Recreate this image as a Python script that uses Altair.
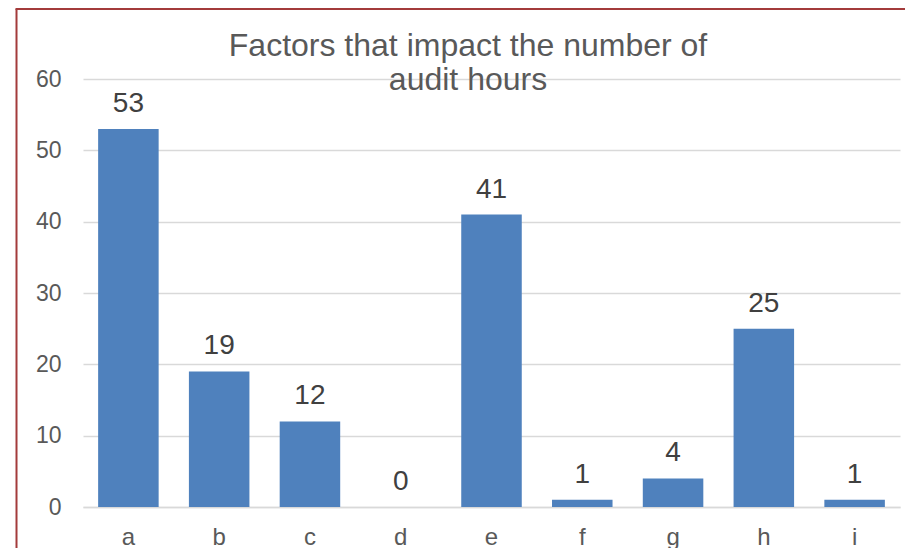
import altair as alt
import pandas as pd

categories = ["a", "b", "c", "d", "e", "f", "g", "h", "i"]
values = [53, 19, 12, 0, 41, 1, 4, 25, 1]
title_lines = ["Factors that impact the number of", "audit hours"]
y_ticks = [0, 10, 20, 30, 40, 50, 60]

df = pd.DataFrame({"cat": categories, "val": values})
FONT = "Liberation Sans"

x = alt.X(
    "cat:N", sort=categories, title=None,
    scale=alt.Scale(paddingInner=1 / 3, paddingOuter=1 / 6),
    axis=alt.Axis(labelAngle=0, labelFontSize=24, labelColor="#595959",
                  labelPadding=37, labelBaseline="alphabetic", ticks=False,
                  domainColor="#d9d9d9", domainWidth=1.5, grid=False,
                  labelFont=FONT),
)
y = alt.Y(
    "val:Q", title=None,
    scale=alt.Scale(domain=[0, 60], nice=False),
    axis=alt.Axis(values=y_ticks, labelFontSize=23, labelColor="#595959",
                  labelPadding=22, ticks=False, domain=False,
                  gridColor="#d9d9d9", gridWidth=1.5, labelFont=FONT),
)

base = alt.Chart(df)
bars = base.mark_bar(color="#4F81BD").encode(x=x, y=y)
labels = base.mark_text(dy=-17, baseline="alphabetic", fontSize=28,
                        color="#404040", font=FONT).encode(
    x=alt.X("cat:N", sort=categories), y="val:Q", text="val:Q")

title_df = pd.DataFrame({"t": ["\n".join(title_lines)]})
title = alt.Chart(title_df).mark_text(
    lineBreak="\n", fontSize=32, lineHeight=34, color="#595959", font=FONT,
    align="center", baseline="alphabetic").encode(
    text="t:N", x=alt.value(385), y=alt.value(-23))

one = pd.DataFrame({"k": [0]})
border_left = alt.Chart(one).mark_rule(color="#a33b3b", strokeWidth=2).encode(
    x=alt.value(-66.5), y=alt.value(-70), y2=alt.value(480))
border_top = alt.Chart(one).mark_rule(color="#a33b3b", strokeWidth=2).encode(
    y=alt.value(-70), x=alt.value(-67.5), x2=alt.value(830))

chart = alt.layer(bars, labels, title, border_left, border_top).properties(
    width=817, height=428,
    padding={"left": 75, "top": 71, "right": 5, "bottom": 41},
    autosize=alt.AutoSizeParams(type="none"),
    background="white",
).configure_view(stroke=None)

chart.save("out.html", embed_options={"renderer": "svg", "actions": False})
